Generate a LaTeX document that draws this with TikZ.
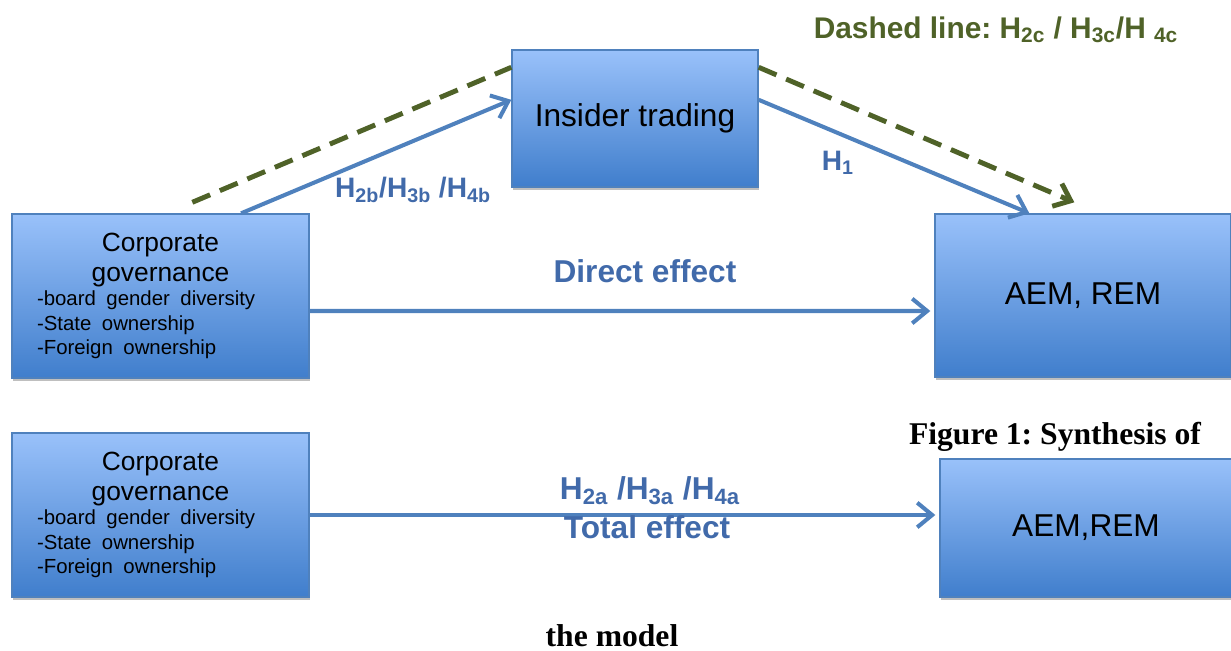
\documentclass[tikz,border=0pt]{standalone}
\usepackage{fontspec}
\setmainfont{Liberation Sans}
\newfontfamily\capfont{Liberation Serif}
\usetikzlibrary{arrows.meta,calc,shadows}
\frenchspacing

\definecolor{boxtop}{RGB}{153,193,250}
\definecolor{boxbot}{RGB}{64,126,204}
\definecolor{boxline}{RGB}{79,129,189}
\definecolor{linkblue}{RGB}{79,129,189}
\definecolor{labelblue}{RGB}{65,106,170}
\definecolor{dashgreen}{RGB}{79,98,40}

\tikzset{
	varbox/.style={draw=boxline, line width=0.8pt, top color=boxtop, bottom color=boxbot,
		drop shadow={shadow xshift=0.6pt, shadow yshift=-1.6pt, fill=black, opacity=0.25},
		inner sep=0pt, font=\fontsize{18}{21}\selectfont},
	cgbox/.style={varbox, text width=4.94cm, inner xsep=0.5cm, minimum height=3.28cm},
	link/.style={draw=linkblue, line width=2.3pt, -{Straight Barb[length=8.5pt,width=14pt]}},
	dashlink/.style={draw=dashgreen, line width=2.8pt, dash pattern=on 11pt off 6pt},
	hyp/.style={text=labelblue, font=\bfseries\fontsize{16}{19}\selectfont},
	effect/.style={text=labelblue, font=\bfseries\fontsize{18}{21}\selectfont},
	caption/.style={font=\capfont\bfseries\fontsize{18}{21}\selectfont}
}

\newcommand{\cgtext}{\centering\fontsize{15}{17}\selectfont Corporate\\governance\par
	\raggedright\fontsize{11.6}{14}\selectfont -board gender diversity\\-State ownership\\-Foreign ownership\par}

\begin{document}
\begin{tikzpicture}[x=0.02cm,y=-0.02cm]
	\useasboundingbox (0,0) rectangle (1231,651);
	
	%boxes
	\node[varbox, minimum width=4.92cm, minimum height=2.74cm] (ins) at (635,118.5) {\raisebox{-2pt}{Insider trading}};
	\node[cgbox] (cg1) at (160.5,296) {\cgtext};
	\node[varbox, minimum width=5.92cm, minimum height=3.26cm] (aem1) at (1083,295.5) {\raisebox{-2pt}{AEM, REM}};
	\node[cgbox] (cg2) at (160.5,515) {\cgtext};
	\node[varbox, minimum width=5.84cm, minimum height=2.76cm] (aem2) at (1086,528) {AEM,REM};
	
	%dashed path
	\draw[dashlink] ($(cg1.north west)+(181,-11)$) -- ($(ins.north west)!0.13!(ins.south west)$);
	\draw[dashlink, -{Straight Barb[length=8.5pt,width=14pt]}] ($(ins.north east)!0.13!(ins.south east)$) -- ($(aem1.north west)+(140,-11)$);
	
	%arrows
	\draw[link] ($(cg1.north west)!0.77!(cg1.north east)$) -- ($(ins.north west)!0.365!(ins.south west)$);
	\draw[link] ($(ins.north east)!0.365!(ins.south east)$) -- ($(aem1.north west)+(95,0)$);
	\draw[link] ($(cg1.east)+(0,15)$) -- ($(aem1.west)+(-4,15.5)$);
	\draw[link] (cg2.east) -- ($(cg2.east -| aem2.west)+(-4,0)$);
	
	%labels
	\node[hyp, text=dashgreen, font=\bfseries\fontsize{17}{20}\selectfont] (legend) at (996,30) {Dashed line: H\textsubscript{2c} / H\textsubscript{3c}/H \textsubscript{4c}};
	\node[hyp] (h2b) at (413,190) {H\textsubscript{2b}/H\textsubscript{3b} /H\textsubscript{4b}};
	\node[hyp] (h1) at (838,163) {H\textsubscript{1}};
	\node[effect] (direct) at (645,271) {Direct effect};
	\node[effect] (h2a) at (650,491) {H\textsubscript{2a} /H\textsubscript{3a} /H\textsubscript{4a}};
	\node[effect] (total) at (647,527) {Total effect};
	\node[caption] (fig) at (1055,437) {Figure 1: Synthesis of};
	\node[caption] (model) at (612,636) {the model};
\end{tikzpicture}
\end{document}
